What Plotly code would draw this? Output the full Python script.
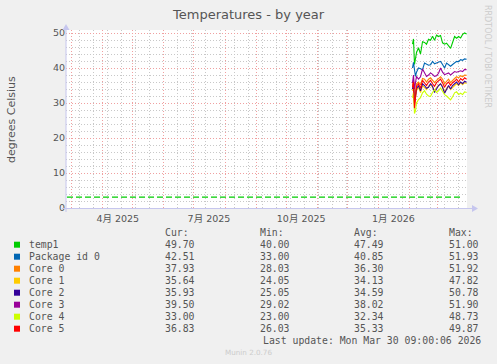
import plotly.graph_objects as go
import pandas as pd

# ---------------- data ----------------
dates = ["2026-02-04", "2026-02-05", "2026-02-06", "2026-02-07", "2026-02-08",
         "2026-02-10", "2026-02-12", "2026-02-14", "2026-02-16", "2026-02-18",
         "2026-02-20", "2026-02-22", "2026-02-24", "2026-02-26", "2026-02-28",
         "2026-03-02", "2026-03-04", "2026-03-06", "2026-03-08", "2026-03-10",
         "2026-03-12", "2026-03-14", "2026-03-16", "2026-03-18", "2026-03-20",
         "2026-03-22", "2026-03-24", "2026-03-26", "2026-03-28", "2026-03-30"]

temp1 = [46.8, 48.3, 41.0, 43.5, 44.4, 45.8, 44.0, 47.5, 47.3, 46.8,
         48.2, 47.9, 49.1, 47.9, 49.4, 49.0, 49.3, 47.2, 46.8, 47.1,
         46.2, 45.6, 47.3, 49.0, 48.5, 49.0, 48.6, 49.6, 50.0, 49.7]
package_id0 = [40.0, 41.6, 39.5, 37.6, 38.8, 40.0, 39.8, 39.5, 41.4, 41.0,
               40.8, 40.9, 41.9, 41.2, 41.4, 41.6, 41.9, 41.0, 40.0, 41.4,
               40.8, 40.5, 41.0, 41.4, 41.9, 41.8, 42.4, 42.2, 42.6, 42.5]
core0 = [35.0, 36.5, 31.0, 34.5, 35.5, 36.0, 35.2, 37.0, 36.8, 36.0,
         36.8, 37.2, 36.5, 35.8, 36.5, 37.0, 37.5, 36.8, 35.5, 36.2,
         36.8, 35.8, 36.5, 37.0, 37.5, 37.2, 37.8, 37.5, 38.0, 37.9]
core1 = [33.5, 35.0, 29.0, 32.0, 33.5, 34.5, 33.0, 35.0, 34.5, 33.8,
         34.8, 35.2, 34.5, 33.5, 34.5, 35.0, 35.5, 34.8, 33.0, 34.2,
         34.8, 33.8, 34.5, 35.0, 35.5, 35.0, 35.8, 35.2, 35.8, 35.6]
core2 = [34.0, 35.5, 30.0, 33.0, 34.0, 35.0, 33.5, 35.5, 35.0, 34.2,
         34.5, 35.5, 34.8, 33.0, 34.0, 35.0, 35.5, 34.5, 32.8, 34.0,
         35.0, 34.0, 35.0, 35.5, 36.0, 35.2, 36.0, 35.5, 36.2, 35.9]
core3 = [35.7, 38.0, 34.0, 36.5, 37.6, 36.8, 37.5, 39.7, 38.5, 37.6,
         38.0, 38.6, 38.2, 37.6, 37.8, 38.5, 40.0, 38.8, 38.1, 38.4,
         38.6, 38.0, 38.6, 39.0, 38.8, 39.0, 39.2, 39.0, 39.6, 39.5]
core4 = [31.5, 33.0, 27.0, 27.8, 30.0, 31.0, 31.5, 32.9, 33.5, 32.5,
         32.0, 31.9, 33.0, 33.8, 33.0, 33.5, 34.3, 33.2, 32.4, 32.0,
         31.5, 30.9, 31.8, 32.9, 33.2, 32.4, 32.8, 32.4, 33.2, 33.0]
core5 = [34.5, 36.0, 28.5, 33.0, 34.8, 35.5, 34.2, 36.5, 35.8, 35.0,
         36.0, 36.5, 35.5, 34.8, 35.8, 36.2, 36.8, 35.8, 34.5, 35.5,
         36.0, 35.0, 35.8, 36.2, 36.8, 36.0, 37.0, 36.5, 37.2, 36.8]

series_names = ["temp1", "Package id 0", "Core 0", "Core 1", "Core 2", "Core 3", "Core 4", "Core 5"]
series_values = [temp1, package_id0, core0, core1, core2, core3, core4, core5]
series_colors = ["#00CC00", "#0066B3", "#FF8000", "#FFCC00", "#330099", "#990099", "#CCFF00", "#FF0000"]

cur_vals = ["49.70", "42.51", "37.93", "35.64", "35.93", "39.50", "33.00", "36.83"]
min_vals = ["40.00", "33.00", "28.03", "24.05", "25.05", "29.02", "23.00", "26.03"]
avg_vals = ["47.49", "40.85", "36.30", "34.13", "34.59", "38.02", "32.34", "35.33"]
max_vals = ["51.00", "51.93", "51.92", "47.82", "50.78", "51.90", "48.73", "49.87"]

hrule_value = 3.1

x_start = "2025-02-23 09:00"
x_end = "2026-03-30 09:00"
y_ticks = [0, 10, 20, 30, 40, 50]
x_label_dates = ["2025-04-16", "2025-07-16", "2025-10-16", "2026-01-16"]
x_label_text = ["4月 2025", "7月 2025", "10月 2025", "1月 2026"]

title_text = "Temperatures - by year"
y_title = "degrees Celsius"
last_update = "Last update: Mon Mar 30 09:00:06 2026"
footer = "Munin 2.0.76"
side_text = "RRDTOOL / TOBI OETIKER"

# ---------------- layout geometry ----------------
W_FIG, H_FIG = 497, 364
L, R, T, B = 66, 467, 30, 208
PW, PH = R - L, B - T


def px(x):
    return (x - L) / PW


def py(y):
    return (B - y) / PH


TEXT = "#555555"
SANS = "DejaVu Sans, Noto Sans CJK JP, sans-serif"
MONO = "DejaVu Sans Mono, monospace"
AXIS_COL = "#c6c6ee"
MAJOR_GRID = "#f0a0a0"
MINOR_GRID = "#c8c8c8"
GRID_DASH = "1px,2px"

month_starts = pd.date_range("2025-03-01", "2026-03-01", freq="MS")
minor_grid = pd.date_range("2025-03-09", "2026-03-29", freq="14D")

fig = go.Figure()
for name, vals, col in zip(series_names, series_values, series_colors):
    fig.add_trace(go.Scatter(x=dates, y=vals, mode="lines", name=name,
                             line=dict(color=col, width=1.1), showlegend=False))
# empty trace anchoring the label axis
fig.add_trace(go.Scatter(x=[], y=[], xaxis="x2", showlegend=False))

shapes = []
# horizontal rule
shapes.append(dict(type="line", xref="paper", yref="y", x0=px(67), x1=px(461),
                   y0=hrule_value, y1=hrule_value,
                   line=dict(color="#00CC00", width=1.2, dash="6px,3px")))
# axes with arrows
shapes.append(dict(type="line", xref="paper", yref="paper", x0=px(62), x1=px(473),
                   y0=py(208.5), y1=py(208.5), line=dict(color=AXIS_COL, width=1)))
shapes.append(dict(type="line", xref="paper", yref="paper", x0=px(66), x1=px(66),
                   y0=py(212), y1=py(29), line=dict(color=AXIS_COL, width=1)))
shapes.append(dict(type="path", xref="paper", yref="paper",
                   path=f"M {px(478)},{py(208.5)} L {px(472)},{py(205)} L {px(472)},{py(212)} Z",
                   fillcolor=AXIS_COL, line=dict(width=0)))
shapes.append(dict(type="path", xref="paper", yref="paper",
                   path=f"M {px(66)},{py(24)} L {px(62.5)},{py(30)} L {px(69.5)},{py(30)} Z",
                   fillcolor=AXIS_COL, line=dict(width=0)))

annotations = []


def text(x, y, s, size=9.8, family=MONO, color=TEXT, xanchor="left", angle=0):
    annotations.append(dict(x=px(x), y=py(y), xref="paper", yref="paper", text=s,
                            showarrow=False, xanchor=xanchor, yanchor="middle",
                            textangle=angle,
                            font=dict(family=family, size=size, color=color)))


text(248.5, 14, title_text, size=13, family=SANS, xanchor="center")
text(11, 120, y_title, size=11, family=SANS, xanchor="center", angle=-90)
text(488, 56, side_text, size=8, family=SANS, color="#cccccc", xanchor="center", angle=90)

col_x = [163.3, 258.3, 352.3, 447.3]
for cx, head in zip(col_x, ["Cur:", "Min:", "Avg:", "Max:"]):
    text(cx, 232.7, head)

row_y0, row_dy = 244.7, 12
for i, name in enumerate(series_names):
    yy = row_y0 + i * row_dy
    shapes.append(dict(type="rect", xref="paper", yref="paper",
                       x0=px(14), x1=px(20), y0=py(yy - 3), y1=py(yy + 3),
                       fillcolor=series_colors[i], line=dict(width=0)))
    text(26.7, yy, name)
    for cx, v in zip(col_x, [cur_vals[i], min_vals[i], avg_vals[i], max_vals[i]]):
        text(cx, yy, v)

text(482.7, 340.7, last_update, xanchor="right")
text(248.3, 352.7, footer, size=7.2, family=SANS, color="#cccccc", xanchor="center")

fig.update_layout(
    width=W_FIG, height=H_FIG,
    margin=dict(l=L, r=W_FIG - R, t=T, b=H_FIG - B, pad=0),
    paper_bgcolor="#f0f0f0", plot_bgcolor="#ffffff",
    showlegend=False,
    xaxis=dict(type="date", range=[x_start, x_end], tickvals=list(month_starts),
               ticktext=[""] * len(month_starts), showticklabels=False,
               showgrid=True, gridcolor=MAJOR_GRID, griddash=GRID_DASH, gridwidth=1,
               zeroline=False, showline=False, ticks="",
               minor=dict(tickvals=list(minor_grid), showgrid=True,
                          gridcolor=MINOR_GRID, griddash=GRID_DASH, gridwidth=1, ticks="")),
    xaxis2=dict(type="date", range=[x_start, x_end], overlaying="x", side="bottom",
                anchor="y", tickvals=x_label_dates, ticktext=x_label_text,
                showgrid=False, zeroline=False, showline=False, ticks="",
                ticklabelstandoff=3,
                tickfont=dict(family=SANS, size=9.5, color=TEXT)),
    yaxis=dict(range=[0, 50.86], tickvals=y_ticks, ticks="",
               showgrid=True, gridcolor=MAJOR_GRID, griddash=GRID_DASH, gridwidth=1,
               zeroline=False, showline=False,
               tickfont=dict(family=SANS, size=9.5, color=TEXT),
               minor=dict(dtick=2, showgrid=True, gridcolor=MINOR_GRID,
                          griddash=GRID_DASH, gridwidth=1, ticks="")),
    shapes=shapes,
    annotations=annotations,
)

fig.write_html("out.html")
